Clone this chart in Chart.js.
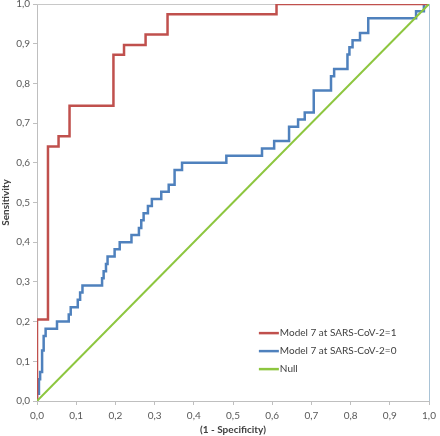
<!DOCTYPE html>
<html>
<head>
<meta charset="utf-8">
<script src="https://cdn.jsdelivr.net/npm/chart.js@4/dist/chart.umd.min.js"></script>
<style>
  html, body { margin: 0; padding: 0; background: #fff; }
  #wrap { width: 440px; height: 436px; }
</style>
</head>
<body>
<div id="wrap"><canvas id="roc"></canvas></div>
<script>
// ROC coordinates (corners of each step)
const seriesLabels = ['Model 7 at SARS-CoV-2=1', 'Model 7 at SARS-CoV-2=0', 'Null'];
const seriesColors = ['#C0504D', '#4F81BD', '#8DC63F'];

const fprCovid1 = [0, 0, 0.028, 0.028, 0.055, 0.055, 0.083, 0.083, 0.195, 0.195, 0.222, 0.222, 0.277, 0.277, 0.333, 0.333, 0.611, 0.611, 1.0];
const tprCovid1 = [0, 0.205, 0.205, 0.641, 0.641, 0.667, 0.667, 0.744, 0.744, 0.872, 0.872, 0.897, 0.897, 0.923, 0.923, 0.974, 0.974, 1.0, 1.0];

const fprCovid0 = [0, 0, 0.005, 0.005, 0.008, 0.008, 0.013, 0.013, 0.017, 0.017, 0.022, 0.022, 0.051, 0.051,
  0.081, 0.081, 0.086, 0.086, 0.104, 0.104, 0.11, 0.11, 0.116, 0.116, 0.166, 0.166, 0.17, 0.17, 0.176, 0.176,
  0.18, 0.18, 0.198, 0.198, 0.211, 0.211, 0.241, 0.241, 0.26, 0.26, 0.266, 0.266, 0.272, 0.272, 0.283, 0.283,
  0.293, 0.293, 0.317, 0.317, 0.336, 0.336, 0.351, 0.351, 0.37, 0.37, 0.483, 0.483, 0.574, 0.574, 0.605, 0.605,
  0.643, 0.643, 0.666, 0.666, 0.683, 0.683, 0.706, 0.706, 0.75, 0.75, 0.758, 0.758, 0.792, 0.792, 0.797, 0.797,
  0.805, 0.805, 0.824, 0.824, 0.845, 0.845, 0.967, 0.967, 0.987, 0.987, 1.0];
const tprCovid0 = [0, 0.018, 0.018, 0.055, 0.055, 0.073, 0.073, 0.127, 0.127, 0.164, 0.164, 0.182, 0.182, 0.2,
  0.2, 0.218, 0.218, 0.236, 0.236, 0.255, 0.255, 0.273, 0.273, 0.291, 0.291, 0.309, 0.309, 0.327, 0.327, 0.345,
  0.345, 0.364, 0.364, 0.382, 0.382, 0.4, 0.4, 0.418, 0.418, 0.436, 0.436, 0.455, 0.455, 0.473, 0.473, 0.491,
  0.491, 0.509, 0.509, 0.527, 0.527, 0.545, 0.545, 0.582, 0.582, 0.6, 0.6, 0.618, 0.618, 0.636, 0.636, 0.655,
  0.655, 0.691, 0.691, 0.709, 0.709, 0.727, 0.727, 0.782, 0.782, 0.818, 0.818, 0.836, 0.836, 0.873, 0.873, 0.891,
  0.891, 0.909, 0.909, 0.927, 0.927, 0.964, 0.964, 0.982, 0.982, 1.0, 1.0];

const fprNull = [0, 1];
const tprNull = [0, 1];

const tickValues = [0, 0.1, 0.2, 0.3, 0.4, 0.5, 0.6, 0.7, 0.8, 0.9, 1.0];

const toPoints = (xs, ys) => xs.map((x, i) => ({ x: x, y: ys[i] }));
const fmt = v => v.toFixed(1).replace('.', ',');

// borda de cima e da direita da área do gráfico
const frameLines = {
    id: 'frameLines',
    beforeDatasetsDraw(chart) {
        const a = chart.chartArea, ctx = chart.ctx;
        ctx.save();
        ctx.lineWidth = 1;
        ctx.strokeStyle = '#C8C8C8';
        ctx.beginPath();
        ctx.moveTo(a.left, a.top + 0.5);
        ctx.lineTo(a.right, a.top + 0.5);
        ctx.stroke();
        ctx.strokeStyle = '#A9C3D6';
        ctx.beginPath();
        ctx.moveTo(a.right + 0.5, a.top);
        ctx.lineTo(a.right + 0.5, a.bottom);
        ctx.stroke();
        ctx.restore();
    }
};

// legenda dentro da área, canto inferior direito
const insideLegend = {
    id: 'insideLegend',
    afterDraw(chart) {
        const a = chart.chartArea, ctx = chart.ctx;
        const x0 = a.left + (a.right - a.left) * 0.566;
        const y0 = a.top + (a.bottom - a.top) * 0.829;
        ctx.save();
        ctx.font = '10px Lato';
        ctx.textBaseline = 'middle';
        chart.data.datasets.forEach((ds, i) => {
            const y = y0 + i * 18;
            ctx.strokeStyle = ds.borderColor;
            ctx.lineWidth = 2.5;
            ctx.beginPath();
            ctx.moveTo(x0, y);
            ctx.lineTo(x0 + 20, y);
            ctx.stroke();
            ctx.fillStyle = '#404040';
            ctx.fillText(ds.label, x0 + 21, y);
        });
        ctx.restore();
    }
};

const axisCommon = {
    type: 'linear',
    min: 0,
    max: 1,
    afterBuildTicks: scale => { scale.ticks = tickValues.map(v => ({ value: v })); },
    ticks: {
        color: '#595959',
        font: { family: 'Lato', size: 10 },
        callback: v => fmt(v)
    },
    grid: {
        drawOnChartArea: false,
        drawTicks: true,
        tickLength: 4,
        color: '#BFBFBF'
    },
    border: { display: true, color: '#BFBFBF', width: 1 }
};

new Chart(document.getElementById('roc'), {
    type: 'scatter',
    data: {
        datasets: [
            { label: seriesLabels[0], data: toPoints(fprCovid1, tprCovid1), borderColor: seriesColors[0], borderWidth: 2.5, showLine: true, pointRadius: 0, order: 2 },
            { label: seriesLabels[1], data: toPoints(fprCovid0, tprCovid0), borderColor: seriesColors[1], borderWidth: 2.5, showLine: true, pointRadius: 0, order: 3 },
            { label: seriesLabels[2], data: toPoints(fprNull, tprNull), borderColor: seriesColors[2], borderWidth: 2, showLine: true, pointRadius: 0, order: 1 }
        ]
    },
    options: {
        responsive: true,
        maintainAspectRatio: false,
        animation: false,
        layout: { padding: 0 },
        scales: {
            x: Object.assign({}, axisCommon, {
                ticks: Object.assign({}, axisCommon.ticks, { padding: 5 }),
                title: {
                    display: true,
                    text: '(1 - Specificity)',
                    color: '#404040',
                    font: { family: 'Lato', size: 10, weight: 'bold' },
                    padding: { top: 2, bottom: 0 }
                },
                afterFit: scale => {
                    scale.height = 35;
                    scale.paddingLeft = 0;
                    scale.paddingRight = 11;
                }
            }),
            y: Object.assign({}, axisCommon, {
                title: {
                    display: true,
                    text: 'Sensitivity',
                    color: '#404040',
                    font: { family: 'Lato', size: 10, weight: 'bold' },
                    padding: { top: 0, bottom: 2 }
                },
                afterFit: scale => {
                    scale.width = 37;
                    scale.paddingTop = 4;
                    scale.paddingBottom = 0;
                }
            })
        },
        plugins: {
            legend: { display: false },
            tooltip: { enabled: false }
        }
    },
    plugins: [frameLines, insideLegend]
});
</script>
</body>
</html>
